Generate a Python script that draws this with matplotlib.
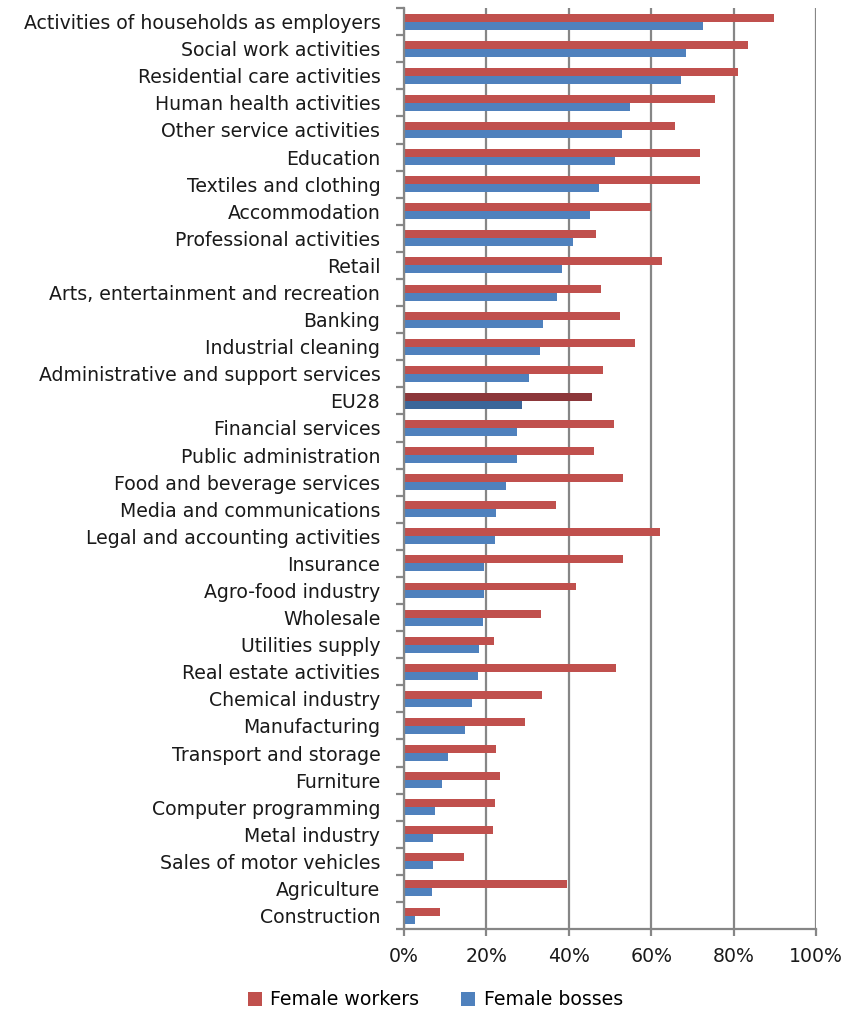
import matplotlib
matplotlib.use("Agg")
import matplotlib.pyplot as plt
import matplotlib.ticker as mticker
import numpy as np

# ── Data (share of women, %) ─────────────────────────────────────────────────
sectors = [
    "Activities of households as employers", "Social work activities",
    "Residential care activities", "Human health activities",
    "Other service activities", "Education", "Textiles and clothing",
    "Accommodation", "Professional activities", "Retail",
    "Arts, entertainment and recreation", "Banking", "Industrial cleaning",
    "Administrative and support services", "EU28", "Financial services",
    "Public administration", "Food and beverage services",
    "Media and communications", "Legal and accounting activities",
    "Insurance", "Agro-food industry", "Wholesale", "Utilities supply",
    "Real estate activities", "Chemical industry", "Manufacturing",
    "Transport and storage", "Furniture", "Computer programming",
    "Metal industry", "Sales of motor vehicles", "Agriculture", "Construction",
]
female_workers = [
    89.7, 83.4, 81.1, 75.5, 65.8, 71.7, 71.7, 59.9, 46.7, 62.7,
    47.9, 52.4, 56.0, 48.3, 45.6, 51.0, 46.1, 53.1, 36.8, 62.2,
    53.1, 41.8, 33.2, 21.9, 51.5, 33.4, 29.4, 22.3, 23.2, 22.1,
    21.5, 14.5, 39.6, 8.7,
]
female_bosses = [
    72.5, 68.5, 67.2, 54.9, 53.0, 51.1, 47.3, 45.2, 41.0, 38.4,
    37.2, 33.8, 33.0, 30.3, 28.6, 27.5, 27.4, 24.8, 22.3, 22.1,
    19.4, 19.4, 19.1, 18.1, 17.9, 16.4, 14.7, 10.7, 9.2, 7.6,
    7.0, 7.0, 6.7, 2.6,
]

# ── Style ────────────────────────────────────────────────────────────────────
RED, BLUE = "#C0504D", "#4F81BD"
RED_DARK, BLUE_DARK = "#8C373A", "#3B6699"
GRID = "#868686"
FS = 13.6
plt.rcParams["font.family"] = ["DejaVu Sans"]

fig = plt.figure(figsize=(8.45, 10.11), dpi=100)
ax = fig.add_axes([0.478, 0.081, 0.488, 0.911])

y = np.arange(len(sectors))
h = 0.295
red_cols = [RED_DARK if s == "EU28" else RED for s in sectors]
blue_cols = [BLUE_DARK if s == "EU28" else BLUE for s in sectors]
ax.barh(y - h / 2, female_workers, height=h, color=red_cols,
        label="Female workers", zorder=3)
ax.barh(y + h / 2, female_bosses, height=h, color=blue_cols,
        label="Female bosses", zorder=3)

ax.set_xlim(0, 100)
ax.set_ylim(len(sectors) - 0.5, -0.5)
ax.xaxis.set_major_locator(mticker.MultipleLocator(20))
ax.xaxis.set_major_formatter(mticker.PercentFormatter(decimals=0))
ax.grid(axis="x", color=GRID, linewidth=1.6, zorder=0)

# category labels on minor ticks, boundary ticks on major
ax.set_yticks(np.arange(len(sectors) + 1) - 0.5)
ax.set_yticklabels([])
ax.set_yticks(y, minor=True)
ax.set_yticklabels(sectors, minor=True, fontsize=FS, color="#1a1a1a")
ax.tick_params(axis="y", which="minor", length=0, pad=17)
ax.tick_params(axis="y", which="major", length=6, width=1.6, color=GRID)
ax.tick_params(axis="x", length=5, width=1.6, color=GRID, pad=8,
               labelsize=FS, labelcolor="#1a1a1a")

for side in ["top", "right"]:
    ax.spines[side].set_visible(False)
for side in ["left", "bottom"]:
    ax.spines[side].set_color(GRID)
    ax.spines[side].set_linewidth(1.6)
    ax.spines[side].set_zorder(4)

ax.legend(loc="center", bbox_to_anchor=(0.515, 0.011),
          bbox_transform=fig.transFigure, ncol=2, frameon=False,
          fontsize=FS, handlelength=0.75, handleheight=0.75,
          handletextpad=0.45, columnspacing=2.2)

fig.savefig("out.png", dpi=100)
